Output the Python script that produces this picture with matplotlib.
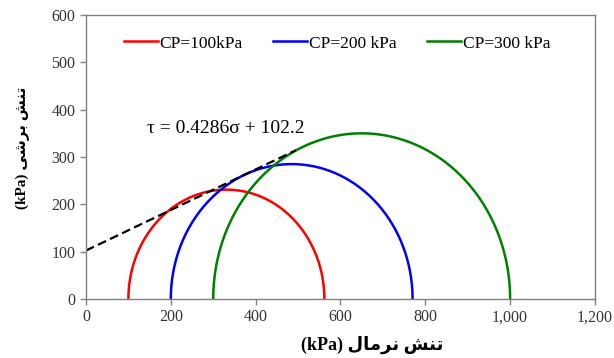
import matplotlib.pyplot as plt
import numpy as np

# Mohr circles: confining pressure (sigma3) and major principal stress (sigma1), kPa
labels = ['CP=100kPa', 'CP=200 kPa', 'CP=300 kPa']
sigma3 = [100, 200, 300]
sigma1 = [562, 770, 1000]
colors = ['#ff0000', '#0000ff', '#008000']

# failure envelope tau = c + tan(phi) * sigma
slope = 0.4286
cohesion = 102.2
env_sigma = [0, 495]

x_ticks = [0, 200, 400, 600, 800, 1000, 1200]
x_ticklabels = ['0', '200', '400', '600', '800', '1,000', '1,200']
y_ticks = [0, 100, 200, 300, 400, 500, 600]

# Persian labels, pre-shaped (presentation forms, visual order)
xlab = '(kPa) ' + '\uFEDD\uFE8E\uFEE3\uFEAE\uFEE7 \uFEB6\uFEE8\uFE97'
ylab = '(kPa) ' + '\uFBFD\uFEB7\uFEAE\uFE91 \uFEB6\uFEE8\uFE97'

fig = plt.figure(figsize=(6.14, 3.58), dpi=100)
ax = fig.add_axes([0.140, 0.165, 0.829, 0.793])

theta = np.linspace(np.pi, 0, 200)
for s3, s1, c, lab in zip(sigma3, sigma1, colors, labels):
    ctr = (s1 + s3) / 2
    r = (s1 - s3) / 2
    ax.plot(ctr + r * np.cos(theta), r * np.sin(theta), color=c, lw=1.8, label=lab)

ex = np.array(env_sigma)
ax.plot(ex, cohesion + slope * ex, color='black', lw=1.6, ls=(0, (4, 2)))
ax.text(144, 361, '\u03c4 = 0.4286\u03c3 + 102.2', fontsize=14,
        family='Liberation Serif', va='center', ha='left')

ax.set_xlim(0, 1200)
ax.set_ylim(0, 600)
ax.set_xticks(x_ticks)
ax.set_xticklabels(x_ticklabels)
ax.set_yticks(y_ticks)
for lbl in ax.get_xticklabels() + ax.get_yticklabels():
    lbl.set_family('Liberation Serif')
    lbl.set_fontsize(11.5)
    lbl.set_color('#333333')
ax.tick_params(direction='out', length=4, color='#808080', width=1)
for sp in ax.spines.values():
    sp.set_color('#808080')
    sp.set_linewidth(1)

ax.set_xlabel(xlab, family=['Liberation Serif', 'DejaVu Sans'], fontweight='bold',
              fontsize=13)
ax.xaxis.set_label_coords(0.562, -0.13)
ax.set_ylabel(ylab, family=['Liberation Serif', 'DejaVu Sans'], fontweight='bold',
              fontsize=11)
ax.yaxis.set_label_coords(-0.11, 0.532)

leg = ax.legend(loc='center left', bbox_to_anchor=(0.057, 0.9), ncol=3, frameon=False,
                prop={'family': 'Liberation Serif', 'size': 12.5}, borderpad=0,
                handlelength=1.95, handletextpad=0.12, columnspacing=1.75)

fig.savefig('out.png', dpi=100)
